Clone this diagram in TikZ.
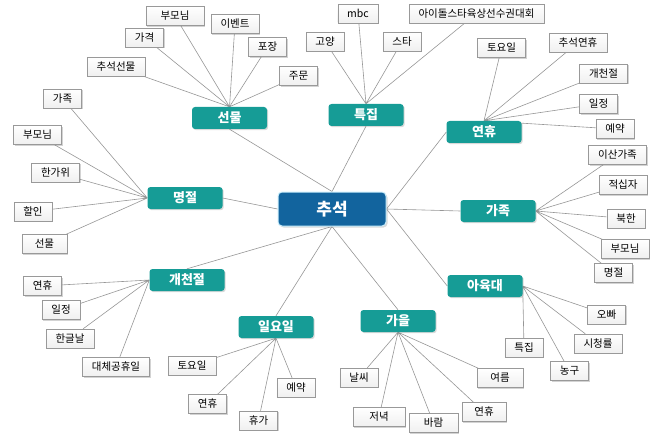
\documentclass[tikz,border=0pt]{standalone}
\usepackage{fontspec}
\setmainfont{Noto Sans CJK KR}
\usetikzlibrary{shadows,backgrounds}

\definecolor{rootblue}{RGB}{18,100,158}
\definecolor{catteal}{RGB}{22,156,150}
\definecolor{linkgray}{RGB}{150,150,150}

\begin{document}
\begin{tikzpicture}[
x=1pt, y=-1pt,
root/.style={draw=cyan!20, line width=1pt, rounded corners=4pt, fill=rootblue, text=white, minimum width=108pt, minimum height=34pt, font=\fontsize{17}{20}\selectfont\bfseries, drop shadow={shadow xshift=1.5pt, shadow yshift=-1.5pt, opacity=0.3}},
cat/.style={rounded corners=3pt, fill=catteal, text=white, minimum width=75pt, minimum height=22pt, font=\fontsize{13}{15}\selectfont\bfseries, drop shadow={shadow xshift=1.2pt, shadow yshift=-1.2pt, opacity=0.3}},
leaf/.style={draw=gray!80, top color=white, bottom color=gray!12, minimum height=19pt, inner xsep=9.5pt, inner ysep=0pt, font=\fontsize{10.5}{12}\selectfont, drop shadow={shadow xshift=1.2pt, shadow yshift=-1.2pt, opacity=0.35}},
link/.style={draw=linkgray, line width=0.6pt}
]
\useasboundingbox (0,0) rectangle (657,436);

\node[root] (chuseok) at (332,209) {추석};

% categories
\node[cat] (gift) at (229.5,118) {선물};
\node[cat] (special) at (366,115) {특집};
\node[cat] (holiday) at (484,132) {연휴};
\node[cat] (feast) at (185,198) {명절};
\node[cat] (family) at (498,211) {가족};
\node[cat] (idol) at (485,286) {아육대};
\node[cat] (gaecheon) at (187,280) {개천절};
\node[cat] (sunday) at (276,327) {일요일};
\node[cat] (autumn) at (398,321) {가을};

% 선물
\node[leaf, minimum width=58pt] (gift-parents) at (175,16) {부모님};
\node[leaf] (gift-event) at (235,24) {이벤트};
\node[leaf] (gift-price) at (144.5,37.5) {가격};
\node[leaf] (gift-wrap) at (267.5,47) {포장};
\node[leaf] (gift-set) at (116,66.5) {추석선물};
\node[leaf] (gift-order) at (298.5,76) {주문};

% 특집
\node[leaf] (special-goyang) at (325,41.5) {고양};
\node[leaf] (special-mbc) at (358,13.5) {mbc};
\node[leaf] (special-star) at (402,41.5) {스타};
\node[leaf] (special-idol) at (476.5,13.5) {아이돌스타육상선수권대회};

% 연휴
\node[leaf] (holiday-sat) at (501.5,48) {토요일};
\node[leaf] (holiday-chuseok) at (578,42.5) {추석연휴};
\node[leaf] (holiday-gaecheon) at (603.5,73.5) {개천절};
\node[leaf] (holiday-plan) at (598.5,104) {일정};
\node[leaf] (holiday-book) at (615,129) {예약};

% 가족
\node[leaf] (family-sep) at (617.5,155) {이산가족};
\node[leaf] (family-cross) at (623,185) {적십자};
\node[leaf] (family-north) at (626,218.5) {북한};
\node[leaf] (family-parents) at (625,249) {부모님};
\node[leaf] (family-feast) at (613.5,273) {명절};

% 명절
\node[leaf] (feast-family) at (62.5,98.5) {가족};
\node[leaf] (feast-parents) at (37.5,135) {부모님};
\node[leaf] (feast-hangawi) at (55.5,172.5) {한가위};
\node[leaf] (feast-sale) at (33,211.5) {할인};
\node[leaf, minimum width=45pt] (feast-gift) at (44.5,244) {선물};

% 개천절
\node[leaf] (gaecheon-holiday) at (42.5,286) {연휴};
\node[leaf] (gaecheon-plan) at (61,310) {일정};
\node[leaf] (gaecheon-hangul) at (70,338.5) {한글날};
\node[leaf] (gaecheon-sub) at (116,367) {대체공휴일};

% 일요일
\node[leaf] (sunday-sat) at (192,365.5) {토요일};
\node[leaf] (sunday-book) at (296,387.5) {예약};
\node[leaf] (sunday-holiday) at (207.5,404) {연휴};
\node[leaf] (sunday-vacation) at (258.5,420.5) {휴가};

% 아육대
\node[leaf] (idol-oppa) at (606.5,314.5) {오빠};
\node[leaf] (idol-rating) at (598,343.5) {시청률};
\node[leaf] (idol-special) at (524,347.5) {특집};
\node[leaf] (idol-basket) at (569.5,371) {농구};

% 가을
\node[leaf] (autumn-weather) at (359,377.5) {날씨};
\node[leaf, minimum width=46pt] (autumn-summer) at (500,378) {여름};
\node[leaf, minimum width=44pt] (autumn-holiday) at (484,412) {연휴};
\node[leaf, minimum width=52pt] (autumn-evening) at (379,417) {저녁};
\node[leaf, minimum width=49pt] (autumn-wind) at (433.5,423) {바람};

\begin{scope}[on background layer]
\draw[link] (gift.south) -- (chuseok.north);
\draw[link] (special.south) -- (chuseok.north);
\draw[link] (feast.east) -- (chuseok.west);
\draw[link] (gaecheon.north) -- (chuseok.south);
\draw[link] (sunday.north) -- (chuseok.south);
\draw[link] (autumn.north) -- (chuseok.south);
\draw[link] (holiday.west) -- (chuseok.east);
\draw[link] (family.west) -- (chuseok.east);
\draw[link] (idol.west) -- (chuseok.east);

\draw[link] (gift.north) -- (gift-parents) (gift.north) -- (gift-event)
  (gift.north) -- (gift-price) (gift.north) -- (gift-wrap)
  (gift.north) -- (gift-set) (gift.north) -- (gift-order);
\draw[link] (special.north) -- (special-goyang) (special.north) -- (special-mbc)
  (special.north) -- (special-star) (special.north) -- (special-idol);
\draw[link] (holiday.north) -- (holiday-sat) (holiday.north) -- (holiday-chuseok)
  (holiday.north) -- (holiday-gaecheon) (holiday.north) -- (holiday-plan)
  (holiday.north) -- (holiday-book);
\draw[link] (family.east) -- (family-sep) (family.east) -- (family-cross)
  (family.east) -- (family-north) (family.east) -- (family-parents)
  (family.east) -- (family-feast);
\draw[link] (feast.west) -- (feast-family) (feast.west) -- (feast-parents)
  (feast.west) -- (feast-hangawi) (feast.west) -- (feast-sale)
  (feast.west) -- (feast-gift);
\draw[link] (gaecheon.west) -- (gaecheon-holiday) (gaecheon.west) -- (gaecheon-plan)
  (gaecheon.west) -- (gaecheon-hangul) (gaecheon.west) -- (gaecheon-sub);
\draw[link] (sunday.south) -- (sunday-sat) (sunday.south) -- (sunday-book)
  (sunday.south) -- (sunday-holiday) (sunday.south) -- (sunday-vacation);
\draw[link] (idol.east) -- (idol-oppa) (idol.east) -- (idol-rating)
  (idol.east) -- (idol-special) (idol.east) -- (idol-basket);
\draw[link] (autumn.south) -- (autumn-weather) (autumn.south) -- (autumn-summer)
  (autumn.south) -- (autumn-holiday) (autumn.south) -- (autumn-evening)
  (autumn.south) -- (autumn-wind);
\end{scope}
\end{tikzpicture}
\end{document}
